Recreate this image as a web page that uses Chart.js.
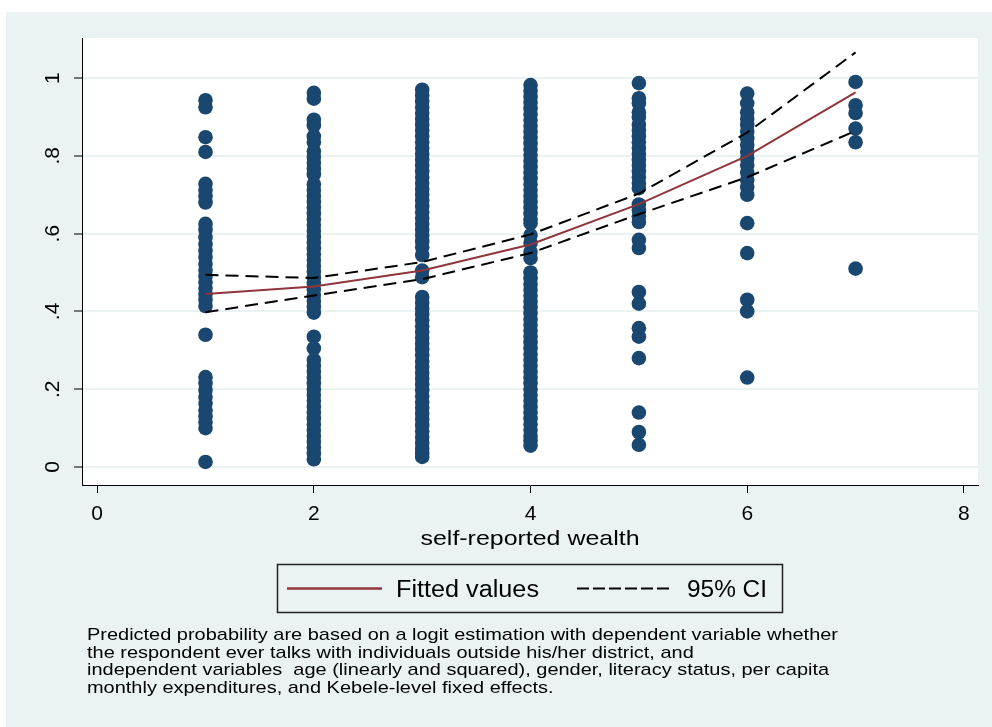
<!DOCTYPE html>
<html>
<head>
<meta charset="utf-8">
<script src="https://cdn.jsdelivr.net/npm/chart.js@4"></script>
<style>
  html, body { margin: 0; padding: 0; background: #ffffff; }
  #wrap { width: 992px; height: 727px; }
</style>
</head>
<body>
<div id="wrap"><canvas id="chart" width="992" height="727"></canvas></div>
<script>
// Wealth categories on the horizontal axis
const wealthLevels = [1, 2, 3, 4, 5, 6, 7];

// Individual predicted probabilities, one list per wealth level
const probW1 = [0.943, 0.925, 0.848, 0.81, 0.728, 0.712, 0.696, 0.68, 0.625, 0.61, 0.59, 0.572,
  0.556, 0.54, 0.522, 0.505, 0.49, 0.475, 0.46, 0.445, 0.43, 0.414, 0.34,
  0.231, 0.215, 0.198, 0.18, 0.163, 0.146, 0.13, 0.115, 0.1, 0.013];
const probW2 = [0.962, 0.947, 0.893, 0.878, 0.85, 0.835, 0.812, 0.797, 0.782, 0.767, 0.752,
  0.727, 0.712, 0.697, 0.682, 0.667, 0.652, 0.637, 0.622, 0.607, 0.592, 0.577, 0.562, 0.547,
  0.532, 0.517, 0.502, 0.487, 0.472, 0.457, 0.442, 0.427, 0.412, 0.397, 0.335, 0.305,
  0.275, 0.26, 0.245, 0.23, 0.215, 0.2, 0.185, 0.17, 0.155, 0.14, 0.125, 0.11, 0.095, 0.08,
  0.065, 0.05, 0.035, 0.02];
const probW3 = [0.97, 0.955, 0.94, 0.925, 0.91, 0.895, 0.88, 0.865, 0.85, 0.835, 0.82, 0.805,
  0.79, 0.775, 0.76, 0.745, 0.73, 0.715, 0.7, 0.685, 0.67, 0.655, 0.64, 0.625, 0.61, 0.595,
  0.58, 0.565, 0.545, 0.505, 0.488, 0.437, 0.422, 0.407, 0.392, 0.377, 0.362, 0.347, 0.332,
  0.317, 0.302, 0.287, 0.272, 0.257, 0.242, 0.227, 0.212, 0.197, 0.182, 0.167, 0.152, 0.137,
  0.122, 0.107, 0.092, 0.077, 0.062, 0.047, 0.035, 0.026];
const probW4 = [0.982, 0.967, 0.952, 0.937, 0.922, 0.907, 0.892, 0.877, 0.862, 0.847, 0.832,
  0.817, 0.802, 0.787, 0.772, 0.757, 0.742, 0.727, 0.712, 0.697, 0.682, 0.667, 0.652, 0.637,
  0.627, 0.596, 0.576, 0.553, 0.537, 0.5, 0.485, 0.47, 0.455, 0.44, 0.425, 0.41, 0.395, 0.38,
  0.365, 0.35, 0.335, 0.32, 0.305, 0.29, 0.275, 0.26, 0.245, 0.23, 0.215, 0.2, 0.185, 0.17,
  0.155, 0.14, 0.125, 0.11, 0.095, 0.08, 0.068, 0.055];
const probW5 = [0.987, 0.948, 0.935, 0.912, 0.9, 0.88, 0.865, 0.85, 0.835, 0.82, 0.805, 0.79,
  0.775, 0.76, 0.745, 0.73, 0.717, 0.675, 0.66, 0.645, 0.63, 0.584, 0.563, 0.45, 0.42, 0.357,
  0.335, 0.28, 0.14, 0.09, 0.057];
const probW6 = [0.96, 0.935, 0.912, 0.895, 0.88, 0.862, 0.845, 0.828, 0.81, 0.793, 0.776,
  0.757, 0.738, 0.72, 0.7, 0.627, 0.55, 0.43, 0.4, 0.23];
const probW7 = [0.99, 0.93, 0.91, 0.87, 0.835, 0.51];

// Logit fit and its 95% confidence band at each wealth level
const fittedValues = [0.445, 0.464, 0.505, 0.572, 0.676, 0.800, 0.963];
const ciUpper = [0.494, 0.486, 0.527, 0.598, 0.703, 0.860, 1.066];
const ciLower = [0.398, 0.441, 0.483, 0.550, 0.650, 0.745, 0.864];

// Axis ticks and texts
const xTickValues = [0, 2, 4, 6, 8];
const yTickValues = [0, 0.2, 0.4, 0.6, 0.8, 1];
const yTickLabels = ['0', '.2', '.4', '.6', '.8', '1'];
const xAxisTitle = 'self-reported wealth';
const legendLabels = ['Fitted values', '95% CI'];
const noteLines = [
  'Predicted probability are based on a logit estimation with dependent variable whether',
  'the respondent ever talks with individuals outside his/her district, and',
  'independent variables  age (linearly and squared), gender, literacy status, per capita',
  'monthly expenditures, and Kebele-level fixed effects.'
];

const NAVY = '#1a476f';
const MAROON = '#90353b';
const PANEL = '#eaf2f3';
const FONT = '"Liberation Sans", Arial, Helvetica, sans-serif';

const scatterPoints = [];
[probW1, probW2, probW3, probW4, probW5, probW6, probW7].forEach((list, i) => {
  list.forEach(v => scatterPoints.push({ x: wealthLevels[i], y: v }));
});
const toXY = arr => wealthLevels.map((x, i) => ({ x: x, y: arr[i] }));

// draws text squeezed or widened horizontally to a target width
function drawFitText(ctx, text, x, y, font, targetWidth) {
  ctx.save();
  ctx.font = font;
  const w = ctx.measureText(text).width;
  const s = targetWidth ? targetWidth / w : 1;
  ctx.translate(x, y);
  ctx.scale(s, 1);
  ctx.fillText(text, 0, 0);
  ctx.restore();
}

const backdrop = {
  id: 'backdrop',
  beforeDraw(chart) {
    const { ctx, chartArea: a } = chart;
    ctx.save();
    ctx.fillStyle = '#ffffff';
    ctx.fillRect(0, 0, chart.width, chart.height);
    ctx.fillStyle = PANEL;
    ctx.fillRect(6, 12, chart.width - 6, chart.height - 12);
    ctx.fillStyle = '#ffffff';
    ctx.fillRect(a.left, a.top, a.right - a.left, a.bottom - a.top);
    ctx.restore();
  }
};

const annotations = {
  id: 'annotations',
  afterDraw(chart) {
    const ctx = chart.ctx;
    const a = chart.chartArea;
    ctx.save();
    ctx.fillStyle = '#000000';
    ctx.textBaseline = 'alphabetic';
    ctx.textAlign = 'left';

    // x-axis title
    const tw = 219;
    drawFitText(ctx, xAxisTitle, (a.left + a.right) / 2 - tw / 2, 545, '21px ' + FONT, tw);

    // legend box
    ctx.strokeStyle = '#222222';
    ctx.lineWidth = 1.5;
    ctx.strokeRect(277.5, 564.5, 505, 48);
    ctx.lineWidth = 2.5;
    ctx.strokeStyle = MAROON;
    ctx.beginPath(); ctx.moveTo(287, 588.5); ctx.lineTo(382, 588.5); ctx.stroke();
    ctx.strokeStyle = '#000000';
    ctx.lineWidth = 2;
    ctx.setLineDash([12, 4]);
    ctx.beginPath(); ctx.moveTo(577, 588.5); ctx.lineTo(673, 588.5); ctx.stroke();
    ctx.setLineDash([]);
    drawFitText(ctx, legendLabels[0], 396, 597, '23px ' + FONT, 143);
    drawFitText(ctx, legendLabels[1], 687, 597, '23px ' + FONT, 80);

    // note under the graph
    ctx.font = '17px ' + FONT;
    const base = ctx.measureText(noteLines[0]).width;
    const s = 751 / base;
    noteLines.forEach((line, i) => {
      ctx.save();
      ctx.translate(87, 640 + i * 17.5);
      ctx.scale(s, 1);
      ctx.fillText(line, 0, 0);
      ctx.restore();
    });
    ctx.restore();
  }
};

new Chart(document.getElementById('chart'), {
  type: 'scatter',
  data: {
    datasets: [
      {
        type: 'line',
        label: legendLabels[0],
        data: toXY(fittedValues),
        borderColor: MAROON,
        borderWidth: 2,
        pointRadius: 0,
        fill: false,
        tension: 0
      },
      {
        type: 'line',
        label: legendLabels[1],
        data: toXY(ciUpper),
        borderColor: '#000000',
        borderWidth: 2,
        borderDash: [13, 7],
        pointRadius: 0,
        fill: false,
        tension: 0
      },
      {
        type: 'line',
        label: 'lower',
        data: toXY(ciLower),
        borderColor: '#000000',
        borderWidth: 2,
        borderDash: [13, 7],
        pointRadius: 0,
        fill: false,
        tension: 0
      },
      {
        label: 'observations',
        data: scatterPoints,
        backgroundColor: NAVY,
        borderColor: NAVY,
        borderWidth: 0,
        pointRadius: 7.3
      }
    ]
  },
  options: {
    responsive: false,
    animation: false,
    devicePixelRatio: 1,
    layout: { padding: { left: 0, top: 38, right: 14, bottom: 182 } },
    plugins: { legend: { display: false }, tooltip: { enabled: false } },
    scales: {
      x: {
        type: 'linear',
        min: -0.14,
        max: 8.13,
        afterBuildTicks: s => { s.ticks = xTickValues.map(v => ({ value: v })); },
        afterFit: s => { s.height = 60; },
        ticks: {
          color: '#000000',
          font: { family: FONT, size: 21 },
          padding: 9,
          maxRotation: 0,
          minRotation: 0
        },
        grid: { drawOnChartArea: false, drawTicks: true, tickLength: 8, tickColor: '#000000', tickWidth: 1 },
        border: { color: '#000000', width: 1 }
      },
      y: {
        type: 'linear',
        min: -0.0463,
        max: 1.103,
        afterBuildTicks: s => { s.ticks = yTickValues.map(v => ({ value: v })); },
        afterFit: s => { s.width = 82; },
        ticks: {
          color: '#000000',
          font: { family: FONT, size: 21 },
          callback: (v, i) => yTickLabels[i],
          minRotation: 90,
          maxRotation: 90,
          crossAlign: 'center',
          padding: 12
        },
        grid: { color: PANEL, lineWidth: 2, drawTicks: true, tickLength: 8, tickColor: '#000000', tickWidth: 1 },
        border: { color: '#000000', width: 1 }
      }
    }
  },
  plugins: [backdrop, annotations]
});
</script>
</body>
</html>
